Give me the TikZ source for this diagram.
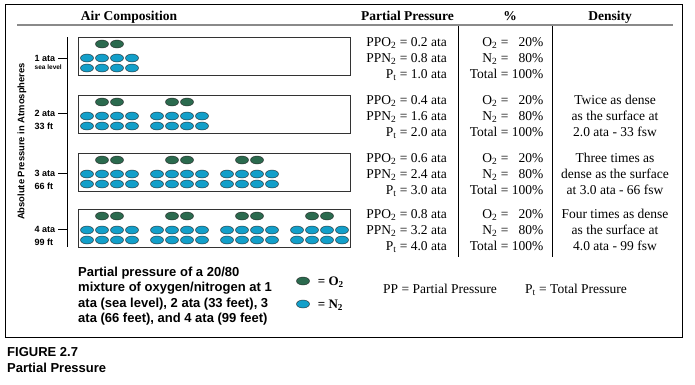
\documentclass[tikz,border=0pt]{standalone}
\usepackage{fontspec}
\setmainfont{Liberation Serif}
\setsansfont{Liberation Sans}
\usepackage{tikz}
\usetikzlibrary{positioning, shapes.geometric}
\definecolor{oxy}{HTML}{2B6A4E}
\definecolor{nitro}{HTML}{139FC9}
\definecolor{rulegray}{HTML}{8A8A8A}
\newcommand{\ppfont}{\fontsize{13.5}{16}\selectfont}
\newcommand{\labfont}{\sffamily\bfseries\fontsize{9}{10}\selectfont}
\tikzset{
    molecule/.style={
        ellipse, draw=black!85, line width=0.4pt,
        inner sep=0pt,
        minimum width=13pt, minimum height=8pt
    },
    otwo/.style={
        molecule,
        fill=oxy
    },
    ntwo/.style={
        molecule,
        fill=nitro
    },
    rowbox/.style={draw=black!80, line width=1pt, inner sep=0pt,
        minimum width=272pt, minimum height=38pt, anchor=north west},
    cell/.style={inner sep=0pt, font=\ppfont},
    head/.style={inner sep=0pt, anchor=base, font=\bfseries\fontsize{13.5}{16}\selectfont},
    atalab/.style={inner sep=0pt, anchor=west, font=\labfont},
    atatick/.style={line width=1pt, black},
    caption/.style={inner sep=0pt, anchor=base west,
        font=\sffamily\bfseries\fontsize{13}{15.6}\selectfont},
    keytext/.style={inner sep=0pt, text depth=0pt,
        font=\bfseries\fontsize{13}{15}\selectfont},
}

\begin{document}
\begin{tikzpicture}
            [x=1pt, y=-1pt]
            \useasboundingbox (0,0) rectangle (695,384);
            % Frame and table heads
            \draw[line width=0.9pt] (5,4) rectangle (682,337);
            \node[head] (hair) at (129,20.5) {Air Composition};
            \node[head] (hpp) at (407.5,20.5) {Partial Pressure};
            \node[head] (hpct) at (510,20.5) {\%};
            \node[head] (hden) at (610,20.5) {Density};
            \draw[rulegray, line width=1.6pt] (17,25) -- (673,25);
            \draw[line width=1pt] (458,26) -- (458,257);
            \draw[line width=1pt] (552,26) -- (552,257);

            % Draw one row per depth
            \foreach \r/\yt/\po/\pn/\pt in {1/37/0.2/0.8/1.0, 2/95/0.4/1.6/2.0, 3/153/0.6/2.4/3.0, 4/209/0.8/3.2/4.0} {
                \node[rowbox] (box\r) at (78,\yt) {};
                \foreach \g in {1,...,\r} {
                    \foreach \j in {0,1}
                        \node[otwo] (o\r-\g-\j) at ({102+70*(\g-1)+15*\j}, \yt+7) {};
                    \foreach \j in {0,...,3} {
                        \node[ntwo] (na\r-\g-\j) at ({87+70*(\g-1)+15*\j}, \yt+21) {};
                        \node[ntwo] (nb\r-\g-\j) at ({87+70*(\g-1)+15*\j}, \yt+31) {};
                    }
                }
                \node[cell, anchor=base east] (pp\r) at (447,\yt+9.5)
                    {\begin{tabular}[t]{@{}r@{~=~}l@{}}
                     PPO\textsubscript{2} & \po{} ata\\
                     PPN\textsubscript{2} & \pn{} ata\\
                     P\textsubscript{t} & \pt{} ata
                     \end{tabular}};
                \node[cell, anchor=base east] (pct\r) at (543.5,\yt+9.5)
                    {\begin{tabular}[t]{@{}r@{~=~}r@{}}
                     O\textsubscript{2} & 20\%\\
                     N\textsubscript{2} & 80\%\\
                     Total & 100\%
                     \end{tabular}};
            }
            \node[cell, anchor=base] (den2) at (615,104.5)
                {\begin{tabular}[t]{@{}c@{}}Twice as dense\\ as the surface at\\ 2.0 ata - 33 fsw\end{tabular}};
            \node[cell, anchor=base] (den3) at (615,162.5)
                {\begin{tabular}[t]{@{}c@{}}Three times as\\ dense as the surface\\ at 3.0 ata - 66 fsw\end{tabular}};
            \node[cell, anchor=base] (den4) at (615,218.5)
                {\begin{tabular}[t]{@{}c@{}}Four times as dense\\ as the surface at\\ 4.0 ata - 99 fsw\end{tabular}};

            % Pressure axis
            \coordinate (axtop) at (67,37);
            \coordinate (axbot) at (67,247);
            \draw[line width=0.8pt] (axtop) -- (axbot);
            \node[rotate=90, inner sep=0pt, font=\sffamily\bfseries\fontsize{9.4}{11}\selectfont] (axlab) at (22,141.5) {Absolute Pressure in Atmospheres};
            \node[atalab] (ata1) at (34.5,58) {1 ata};
            \node[atalab, font=\sffamily\bfseries\fontsize{6.5}{7}\selectfont] (sea) at (34.5,67.5) {sea level};
            \foreach \r/\y/\ft in {2/113/33, 3/173/66, 4/229/99} {
                \node[atalab] (ata\r) at (34.5,\y) {\r{} ata};
                \node[atalab] (ft\r) at (34.5,\y+13.5) {\ft{} ft};
            }
            \foreach \r/\y in {1/58, 2/113, 3/173, 4/229}{
                \coordinate (tickl\r) at (58,\y);
                \coordinate (tickr\r) at (67,\y);
                \draw[atatick] (tickl\r) -- (tickr\r);
            }

            % Caption, key and notes
            \node[caption] (note) at (78,276)
                {\begin{tabular}[t]{@{}l@{}}Partial pressure of a 20/80\\ mixture of oxygen/nitrogen at 1\\ ata (sea level), 2 ata (33 feet), 3\\ ata (66 feet), and 4 ata (99 feet)\end{tabular}};
            \node[otwo] (keyo) at (303,281) {};
            \node[ntwo] (keyn) at (303,304) {};
            \node[keytext, right=8pt of keyo] (keyotext) {= O\textsubscript{2}};
            \node[keytext, right=8pt of keyn] (keyntext) {= N\textsubscript{2}};
            \node[cell, anchor=base west] (ppdef) at (383,293.3) {PP = Partial Pressure};
            \node[cell, anchor=base west] (ptdef) at (525,293.3) {P\textsubscript{t} = Total Pressure};
            \node[caption] (fig) at (7,356) {FIGURE 2.7};
            \node[caption] (figname) at (7,372) {Partial Pressure};

        \end{tikzpicture}
\end{document}
